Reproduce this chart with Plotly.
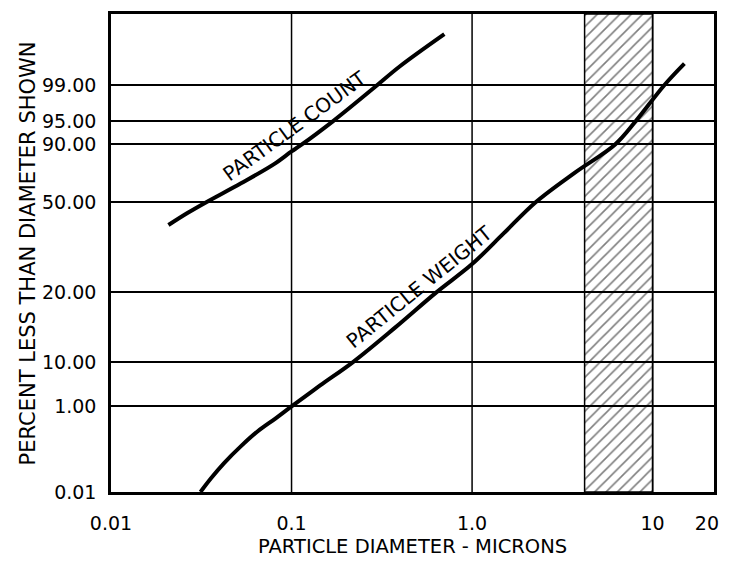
import numpy as np
import plotly.graph_objects as go

# ---- data ----
# Particle-size distribution: diameter (microns) vs percent less than diameter
count_diam = [0.0208, 0.0265, 0.0337, 0.0525, 0.0796, 0.100, 0.112, 0.170,
              0.282, 0.397, 0.702]
count_pct = [42.4, 46.4, 50.0, 63.1, 76.2, 85.2, 89.3, 95.0, 98.6, 99.26, 99.71]

weight_diam = [0.0313, 0.0359, 0.0423, 0.0525, 0.065, 0.0817, 0.100, 0.144,
               0.219, 0.373, 0.634, 1.0, 1.50, 2.25, 3.73, 6.2, 8.07,
               11.6, 15.0]
weight_pct = [0.01, 0.171, 0.344, 0.54, 0.712, 0.862, 1.0, 5.25, 10.0, 14.9,
              20.0, 29.4, 39.7, 50.0, 70.7, 90.0, 95.0, 99.0, 99.30]

# shaded diameter band (microns)
band_diam = [4.2, 10.0]

# axis ticks / grid
x_ticks = [0.01, 0.1, 1.0, 10, 20]
x_ticktext = ["0.01", "0.1", "1.0", "10", "20"]
x_grid = [0.1, 1.0, 10]
y_ticks_pct = [0.01, 1.0, 10.0, 20.0, 50.0, 90.0, 95.0, 99.0]
y_ticktext = ["0.01", "1.00", "10.00", "20.00", "50.00", "90.00", "95.00", "99.00"]

# the chart's (irregular) percent scale: percent -> axis position
scale_pct = [0.01, 1.0, 10.0, 20.0, 50.0, 90.0, 95.0, 99.0, 99.99]
scale_pos = [0, 86, 130.5, 200.5, 291, 349, 372.5, 408.5, 480]


def to_axis(p):
    return np.interp(p, scale_pct, scale_pos)


FONT = "DejaVu Sans"
fig = go.Figure()

# hatched band
fig.add_trace(go.Scatter(
    x=[band_diam[0], band_diam[1], band_diam[1], band_diam[0], band_diam[0]],
    y=[to_axis(0.01), to_axis(0.01), to_axis(99.99), to_axis(99.99), to_axis(0.01)],
    mode="lines", fill="toself",
    fillcolor="rgba(0,0,0,0)",
    fillpattern=dict(shape="/", size=8, solidity=0.2,
                     fgcolor="black", bgcolor="rgba(0,0,0,0)", fillmode="overlay"),
    line=dict(color="black", width=1.5),
    hoverinfo="skip", showlegend=False,
))

fig.add_trace(go.Scatter(
    x=count_diam, y=to_axis(count_pct), mode="lines",
    line=dict(color="black", width=4, shape="spline", smoothing=1.0),
    showlegend=False, name="PARTICLE COUNT",
))
fig.add_trace(go.Scatter(
    x=weight_diam, y=to_axis(weight_pct), mode="lines",
    line=dict(color="black", width=4, shape="spline", smoothing=1.0),
    showlegend=False, name="PARTICLE WEIGHT",
))

# vertical grid lines
for gx in x_grid:
    fig.add_shape(type="line", xref="x", yref="paper", x0=gx, x1=gx, y0=0, y1=1,
                  line=dict(color="black", width=1.5), layer="below")

fig.add_annotation(x=np.log10(0.104), y=to_axis(94.0), text="PARTICLE COUNT",
                   textangle=-36, showarrow=False,
                   font=dict(family=FONT, size=20, color="black"))
fig.add_annotation(x=np.log10(0.51), y=to_axis(21.8), text="PARTICLE WEIGHT",
                   textangle=-39, showarrow=False,
                   font=dict(family=FONT, size=20, color="black"))

fig.add_annotation(xref="paper", yref="paper", x=0.5, y=-0.1146,
                   text="PARTICLE DIAMETER - MICRONS", showarrow=False,
                   yanchor="middle", font=dict(family=FONT, size=19.5, color="black"))
fig.add_annotation(xref="paper", yref="paper", x=-0.137, y=0.5,
                   text="PERCENT LESS THAN DIAMETER SHOWN", showarrow=False,
                   textangle=-90, xanchor="center", yanchor="middle",
                   font=dict(family=FONT, size=21, color="black"))

fig.update_layout(
    width=730, height=571,
    margin=dict(l=111, r=11, t=12, b=79),
    paper_bgcolor="white", plot_bgcolor="white",
    font=dict(family=FONT, size=19, color="black"),
    xaxis=dict(type="log", range=[-2, 1.34],
               tickvals=x_ticks, ticktext=x_ticktext,
               showgrid=False,
               showline=True, linecolor="black", linewidth=2.5, mirror=True,
               ticks="", ticklabelstandoff=12, zeroline=False,
               tickfont=dict(family=FONT, size=19, color="black")),
    yaxis=dict(range=[0, 480],
               tickvals=list(to_axis(y_ticks_pct)), ticktext=y_ticktext,
               showgrid=True, gridcolor="black", gridwidth=1.5,
               showline=True, linecolor="black", linewidth=2.5, mirror=True,
               ticks="", ticklabelstandoff=8, zeroline=False,
               tickfont=dict(family=FONT, size=19, color="black")),
)

fig.write_html("out.html")
